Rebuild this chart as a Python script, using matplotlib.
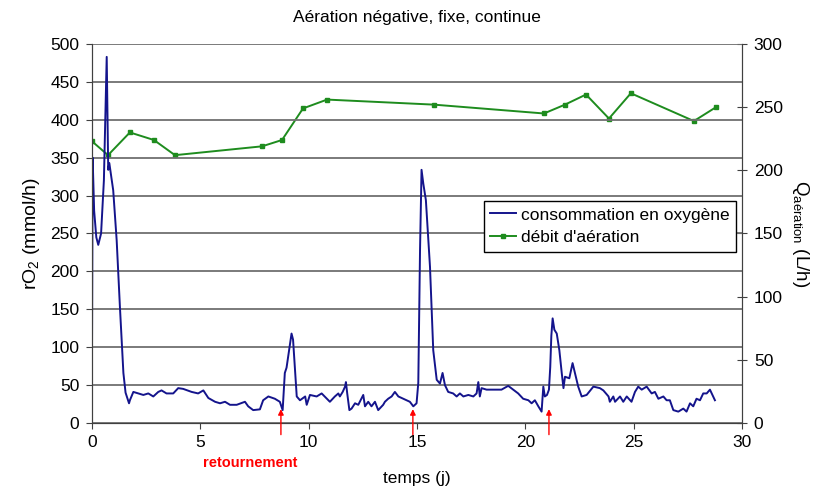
import matplotlib
matplotlib.use("Agg")
import matplotlib.pyplot as plt

plt.rcParams["font.family"] = ["Liberation Sans", "DejaVu Sans"]
plt.rcParams["mathtext.fontset"] = "custom"
plt.rcParams["mathtext.rm"] = "Liberation Sans"

# oxygen consumption rO2 (mmol/h) vs time (j)
o2_readings = [
    (0.0, 83), (0.03, 350), (0.1, 280), (0.2, 245), (0.29, 235), (0.42, 250),
    (0.55, 320), (0.68, 483), (0.75, 334), (0.8, 343), (0.98, 307),
    (1.14, 241), (1.29, 153), (1.45, 66), (1.55, 40), (1.71, 26), (1.75, 30),
    (1.91, 41), (2.14, 39), (2.37, 37), (2.6, 39), (2.83, 35), (3.06, 41),
    (3.21, 43), (3.44, 39), (3.75, 39), (3.98, 46), (4.21, 45), (4.6, 41),
    (4.9, 39), (5.14, 43), (5.37, 33), (5.68, 28), (5.91, 26), (6.14, 28),
    (6.37, 24), (6.68, 24), (7.06, 28), (7.21, 22), (7.44, 17), (7.75, 18),
    (7.9, 30), (8.14, 35), (8.44, 32), (8.67, 28), (8.8, 17), (8.9, 66),
    (8.98, 73), (9.21, 118), (9.28, 110), (9.45, 35), (9.6, 30), (9.84, 35),
    (9.91, 24), (10.06, 37), (10.37, 35), (10.6, 39), (10.98, 28),
    (11.21, 35), (11.37, 39), (11.44, 35), (11.57, 41), (11.68, 48),
    (11.72, 54), (11.78, 39), (11.88, 17), (11.98, 19), (12.14, 26),
    (12.29, 24), (12.52, 37), (12.6, 22), (12.75, 28), (12.9, 22),
    (13.06, 28), (13.21, 17), (13.44, 24), (13.52, 28), (13.67, 32),
    (13.83, 35), (13.98, 41), (14.14, 35), (14.37, 32), (14.67, 28),
    (14.83, 22), (14.98, 26), (15.06, 53), (15.14, 228), (15.21, 334),
    (15.29, 316), (15.41, 294), (15.6, 206), (15.75, 96), (15.91, 57),
    (16.06, 52), (16.18, 66), (16.29, 50), (16.44, 41), (16.67, 39),
    (16.83, 35), (16.98, 39), (17.14, 35), (17.37, 37), (17.6, 35),
    (17.75, 39), (17.83, 54), (17.9, 35), (17.98, 46), (18.21, 44),
    (18.52, 44), (18.9, 44), (19.21, 49), (19.44, 44), (19.67, 39),
    (19.9, 32), (20.14, 30), (20.29, 26), (20.44, 30), (20.6, 22),
    (20.75, 15), (20.83, 48), (20.9, 35), (21.0, 37), (21.09, 44),
    (21.15, 74), (21.2, 115), (21.26, 138), (21.34, 123), (21.45, 118),
    (21.57, 96), (21.68, 66), (21.76, 46), (21.83, 61), (22.03, 59),
    (22.18, 79), (22.29, 66), (22.44, 48), (22.6, 35), (22.83, 37),
    (23.14, 48), (23.44, 46), (23.6, 43), (23.84, 35), (23.9, 28),
    (24.06, 35), (24.14, 28), (24.37, 35), (24.52, 28), (24.68, 35),
    (24.9, 28), (25.06, 41), (25.21, 48), (25.37, 44), (25.6, 48),
    (25.83, 39), (25.98, 41), (26.14, 32), (26.37, 35), (26.52, 30),
    (26.67, 30), (26.83, 17), (27.06, 15), (27.29, 19), (27.44, 15),
    (27.6, 26), (27.75, 22), (27.9, 32), (28.06, 30), (28.21, 39),
    (28.37, 39), (28.52, 44), (28.75, 30),
]
t_o2 = [p[0] for p in o2_readings]
r_o2 = [p[1] for p in o2_readings]

# aeration flow Q (L/h)
t_air = [0.0, 0.74, 1.75, 2.86, 3.83, 7.85, 8.77, 9.74, 10.85, 15.78, 20.86,
         21.83, 22.8, 23.86, 24.87, 27.78, 28.8]
q_air = [223, 212, 230, 224, 212, 219, 224, 249, 256, 252, 245,
         252, 260, 241, 261, 239, 250]

# turning events (days)
t_turn = [8.72, 14.81, 21.09]

BLUE = "#14148c"
GREEN = "#1e8c1e"

fig = plt.figure(figsize=(8.19, 4.91), dpi=100)
ax = fig.add_axes([0.1123, 0.1385, 0.7937, 0.7719])
ax2 = ax.twinx()

ax.set_xlim(0, 30)
ax.set_ylim(0, 500)
ax.set_yticks(range(0, 501, 50))
ax.set_xticks(range(0, 31, 5))
ax.grid(axis="y", color="#707070", lw=1.3)
ax.set_axisbelow(True)
ax.spines["top"].set_visible(False)
ax2.spines["top"].set_visible(False)
for sp in list(ax.spines.values()) + list(ax2.spines.values()):
    sp.set_color("#404040")

l1, = ax.plot(t_o2, r_o2, color=BLUE, lw=1.4)

ax2.set_ylim(0, 300)
ax2.set_yticks(range(0, 301, 50))
l2, = ax2.plot(t_air, q_air, color=GREEN, lw=1.4, marker="s", ms=3.5)

ax.tick_params(labelsize=12.5, length=4, color="#404040", pad=5)
ax2.tick_params(labelsize=12.5, length=7, direction="inout", color="#404040",
                pad=5)

for t in t_turn:
    ax.annotate("", xy=(t, 22), xytext=(t, -19),
                arrowprops=dict(arrowstyle="-|>", color="red", lw=1.0,
                                mutation_scale=8),
                annotation_clip=False)
ax.text(7.3, -53, "retournement", color="red", fontsize=10.5,
        fontweight="bold", ha="center", va="center")

ax.set_title("Aération négative, fixe, continue", fontsize=12.5, pad=16)
ax.set_xlabel("temps (j)", fontsize=12.5, labelpad=15)
ax.set_ylabel("rO$_2$ (mmol/h)", fontsize=14, labelpad=6)
ax2.set_ylabel("Q$_{\\mathrm{aération}}$ (L/h)", fontsize=13.5, rotation=270,
               labelpad=20)

leg = ax.legend([l1, l2], ["consommation en oxygène", "débit d'aération"],
                loc="upper right", bbox_to_anchor=(0.991, 0.585),
                fontsize=12.5, frameon=True, fancybox=False, framealpha=1,
                edgecolor="black", borderpad=0.35, handlelength=1.5,
                handletextpad=0.3, labelspacing=0.45, borderaxespad=0)
leg.get_frame().set_linewidth(1.0)
ax.set_zorder(ax2.get_zorder() + 1)
ax.patch.set_visible(False)

fig.savefig("out.png", dpi=100)
